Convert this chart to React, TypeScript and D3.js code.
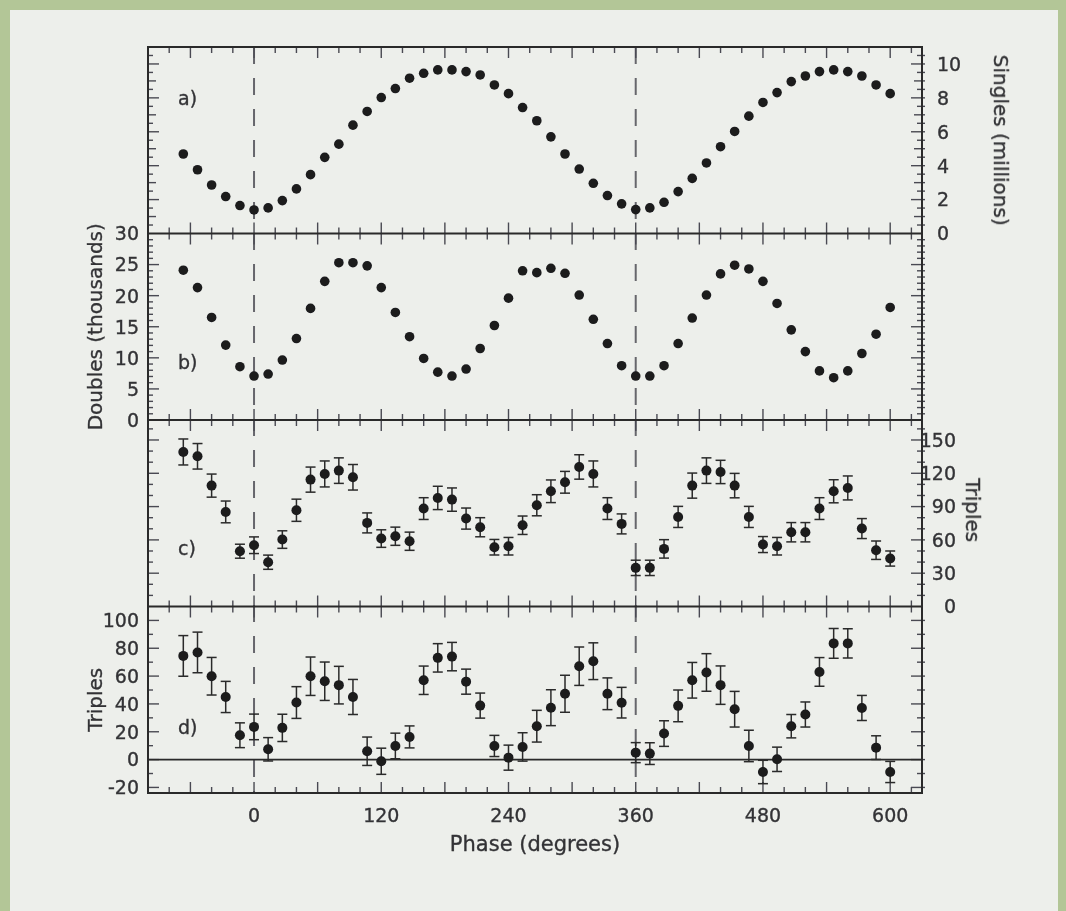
import React from "react";
import * as d3 from "d3";

// phase of each measurement, degrees
const phases = [
  -66.7, -53.3, -40, -26.7, -13.3,
  0, 13.3, 26.7, 40, 53.3, 66.7, 80, 93.3, 106.7, 120,
  133.3, 146.7, 160, 173.3, 186.7, 200, 213.3, 226.7, 240, 253.3,
  266.7, 280, 293.3, 306.7, 320, 333.3, 346.7, 360, 373.3, 386.7,
  400, 413.3, 426.7, 440, 453.3, 466.7, 480, 493.3, 506.7, 520,
  533.3, 546.7, 560, 573.3, 586.7, 600,
];

// a) singles, millions
const singles = [
  4.69, 3.76, 2.86, 2.18, 1.65,
  1.39, 1.51, 1.94, 2.63, 3.47, 4.49, 5.27, 6.39, 7.2, 8.02,
  8.55, 9.16, 9.45, 9.65, 9.65, 9.55, 9.35, 8.76, 8.25, 7.43,
  6.65, 5.7, 4.69, 3.8, 2.96, 2.24, 1.75, 1.41, 1.51, 1.84,
  2.47, 3.25, 4.16, 5.12, 6.02, 6.92, 7.73, 8.31, 8.96, 9.29,
  9.55, 9.65, 9.55, 9.29, 8.76, 8.25,
];

// b) doubles, thousands
const doubles = [
  24.1, 21.3, 16.5, 12.05, 8.57,
  7.07, 7.39, 9.64, 13.1, 17.95, 22.3, 25.3, 25.3, 24.8, 21.3,
  17.3, 13.4, 9.9, 7.7, 7.07, 8.2, 11.5, 15.2, 19.6, 24.0,
  23.7, 24.4, 23.6, 20.1, 16.2, 12.3, 8.73, 7.07, 7.07, 8.73,
  12.3, 16.4, 20.1, 23.5, 24.9, 24.3, 22.3, 18.75, 14.5, 11.0,
  7.9, 6.8, 7.9, 10.7, 13.8, 18.1,
];

// c) triples
const triplesC = [
  139.2, 135.3, 108.9, 85.2, 49.8,
  55.2, 39.9, 60.3, 86.7, 114.3, 119.4, 122.4, 116.4, 75.3, 61.2,
  63.3, 58.8, 88.2, 97.8, 96.3, 79.2, 71.4, 53.4, 54.3, 73.2,
  91.2, 103.8, 111.9, 125.7, 119.4, 88.2, 74.4, 34.8, 34.8, 51.9,
  80.7, 108.9, 122.4, 121.2, 108.9, 80.7, 55.8, 54.3, 66.9, 66.9,
  88.2, 103.8, 106.8, 70.2, 50.7, 43.2,
];
const triplesCErr = [
  11.7, 11.5, 10.4, 9.8, 6.3,
  7.5, 6.4, 7.9, 10, 11.3, 11.7, 11.5, 11.5, 9, 7.9,
  8.2, 8.2, 9.8, 10.5, 10.5, 9.5, 8.6, 7, 7.9, 8.3,
  9.5, 10.2, 9.8, 11, 11.7, 9.8, 9, 6.9, 6.9, 8.3,
  9.5, 11.3, 11.5, 10.5, 11, 9.5, 7.2, 7.9, 8.7, 8.7,
  9.8, 10.4, 10.8, 9, 8.3, 6.8,
];

// d) triples, background subtracted
const triplesD = [
  74.5, 77, 59.9, 45, 17.5,
  23.5, 7.4, 22.8, 41, 59.9, 56.3, 53.5, 45, 6, -1.2,
  9.8, 16.3, 57, 73.1, 74, 56, 38.8, 9.8, 1.4, 9.1,
  24, 37.3, 47.3, 67.1, 70.7, 47.3, 40.9, 5, 4.3, 18.7,
  38.6, 57, 62.6, 53.5, 36.2, 9.8, -8.9, 0.2, 24, 32.4,
  63, 83.5, 83.5, 37.1, 8.6, -8.9,
];
const triplesDErr = [
  14.6, 14.6, 13.5, 11.2, 8.9,
  9.2, 8.4, 9.8, 11.4, 13.8, 13.8, 13.5, 12.6, 10.2, 9.4,
  9.2, 7.9, 10.2, 10.2, 10.2, 9, 9, 7.6, 9, 10.2,
  11.4, 12.9, 13.3, 13.8, 13.2, 11.4, 11, 7.2, 7.8, 9.2,
  11.4, 12.8, 13.5, 13.8, 12.8, 11.3, 8.4, 8.75, 8.4, 9,
  10.3, 10.7, 10.5, 9, 8.5, 7.6,
];

const phaseTicks = [0, 120, 240, 360, 480, 600];
const singlesTicks = [0, 2, 4, 6, 8, 10];
const doublesTicks = [0, 5, 10, 15, 20, 25, 30];
const triplesCTicks = [0, 30, 60, 90, 120, 150];
const triplesDTicks = [-20, 0, 20, 40, 60, 80, 100];

const W = 1066;
const H = 911;
const L = 148;
const R = 922;
const T = 47;
const PH = 186.5;
const FONT = "'DejaVu Sans', Arial, sans-serif";
const INK = "#2a2a2a";
const TXT = "#333336";

const x = d3.scaleLinear().domain([-100, 630]).range([L, R]);

type Panel = {
  label: string;
  domain: [number, number];
  minorStep: number;
  midStep: number;
  majorStep: number;
  ticks: number[];
  side: "left" | "right";
  title: string;
  values: number[];
  errs?: number[];
  zeroLine?: boolean;
};

const panels: Panel[] = [
  { label: "a)", domain: [0, 11], minorStep: 0.5, midStep: 1, majorStep: 2, ticks: singlesTicks, side: "right", title: "Singles (millions)", values: singles },
  { label: "b)", domain: [0, 30], minorStep: 1, midStep: 5, majorStep: 5, ticks: doublesTicks, side: "left", title: "Doubles (thousands)", values: doubles },
  { label: "c)", domain: [0, 168], minorStep: 10, midStep: 30, majorStep: 30, ticks: triplesCTicks, side: "right", title: "Triples", values: triplesC, errs: triplesCErr },
  { label: "d)", domain: [-24, 110], minorStep: 10, midStep: 20, majorStep: 20, ticks: triplesDTicks, side: "left", title: "Triples", values: triplesD, errs: triplesDErr, zeroLine: true },
];

const isMult = (v: number, s: number) => Math.abs(v / s - Math.round(v / s)) < 1e-6;

const textStyle = { fill: TXT, stroke: TXT, strokeWidth: 0.35 };

function PanelView({ p, i }: { p: Panel; i: number }) {
  const top = T + i * PH;
  const bot = top + PH;
  const y = d3.scaleLinear().domain(p.domain).range([bot, top]);
  const start = Math.ceil(p.domain[0] / p.minorStep) * p.minorStep;
  const yTicks = d3.range(start, p.domain[1] + 1e-9, p.minorStep).filter((v) => y(v) > top + 2 && y(v) < bot - 2);
  const xTicks = d3.range(-80, 630, 20);
  const tickLen = (v: number) => (isMult(v, p.majorStep) ? 11 : isMult(v, p.midStep) ? 8 : 5);
  const rightC = p.label === "c)";

  return (
    <g>
      {/* x ticks on top & bottom edges */}
      {xTicks.map((t) => {
        const len = isMult(t, 60) ? 11 : 6;
        return (
          <g key={"x" + t} stroke="#4a4a52" strokeWidth={1.4}>
            <line x1={x(t)} x2={x(t)} y1={top} y2={top + len} />
            <line x1={x(t)} x2={x(t)} y1={bot} y2={bot - len} />
          </g>
        );
      })}
      {/* y ticks on both edges */}
      {yTicks.map((v) => {
        const len = tickLen(v);
        return (
          <g key={"y" + v} stroke="#4a4a52" strokeWidth={1.4}>
            <line x1={L} x2={L + len} y1={y(v)} y2={y(v)} />
            <line x1={R - len} x2={R + 3} y1={y(v)} y2={y(v)} />
          </g>
        );
      })}
      {p.zeroLine && <line x1={L} x2={R} y1={y(0)} y2={y(0)} stroke={INK} strokeWidth={1.8} />}
      {/* tick labels */}
      {p.ticks.map((v) => (
        <text
          key={"l" + v}
          x={p.side === "left" ? 139 : rightC ? 956 : 937}
          y={y(v)}
          dy="0.36em"
          textAnchor={p.side === "left" || rightC ? "end" : "start"}
          fontSize={19}
          {...textStyle}
        >
          {v}
        </text>
      ))}
      {/* axis title */}
      {p.side === "left" ? (
        <text transform={`translate(95,${(top + bot) / 2}) rotate(-90)`} textAnchor="middle" dy="0.36em" fontSize={20} {...textStyle}>
          {p.title}
        </text>
      ) : (
        <text
          transform={`translate(${rightC ? 973 : 1001},${(top + bot) / 2 - (rightC ? 3 : 0)}) rotate(90)`}
          textAnchor="middle"
          dy="0.36em"
          fontSize={20}
          {...textStyle}
        >
          {p.title}
        </text>
      )}
      {/* panel tag */}
      <text x={178} y={[98, 362, 548, 727][i]} dy="0.36em" fontSize={19} {...textStyle}>
        {p.label}
      </text>
      {/* error bars */}
      {p.errs &&
        p.values.map((v, k) => {
          const e = p.errs![k];
          const cx = x(phases[k]);
          return (
            <g key={"e" + k} stroke={INK} strokeWidth={1.5}>
              <line x1={cx} x2={cx} y1={y(v - e)} y2={y(v + e)} />
              <line x1={cx - 5} x2={cx + 5} y1={y(v - e)} y2={y(v - e)} />
              <line x1={cx - 5} x2={cx + 5} y1={y(v + e)} y2={y(v + e)} />
            </g>
          );
        })}
      {/* points */}
      {p.values.map((v, k) => (
        <circle key={"p" + k} cx={x(phases[k])} cy={y(v)} r={p.errs ? 5 : 4.8} fill="#1a1a1c" />
      ))}
    </g>
  );
}

export default function App() {
  const bottom = T + 4 * PH;
  return (
    <svg width={W} height={H} style={{ position: "absolute", left: 0, top: 0 }} fontFamily={FONT}>
      <defs>
        <filter id="soft" x="-5%" y="-5%" width="110%" height="110%">
          <feGaussianBlur stdDeviation="0.55" />
        </filter>
      </defs>
      <rect x={0} y={0} width={W} height={H} fill="#b3c697" />
      <rect x={10} y={10} width={W - 18} height={H - 10} fill="#edefeb" />
      <g filter="url(#soft)">
        {/* dashed phase markers */}
        {[0, 360].map((d) => (
          <line key={d} x1={x(d)} x2={x(d)} y1={T} y2={bottom} stroke="#66666c" strokeWidth={2} strokeDasharray="17,14" />
        ))}
        {panels.map((p, i) => (
          <PanelView key={p.label} p={p} i={i} />
        ))}
        {/* frame & separators */}
        <rect x={L} y={T} width={R - L} height={bottom - T} fill="none" stroke={INK} strokeWidth={2} />
        {[1, 2, 3].map((k) => (
          <line key={k} x1={L} x2={R} y1={T + k * PH} y2={T + k * PH} stroke={INK} strokeWidth={2} />
        ))}
        {/* x tick labels */}
        {phaseTicks.map((t) => (
          <text key={t} x={x(t)} y={815} dy="0.36em" textAnchor="middle" fontSize={19} {...textStyle}>
            {t}
          </text>
        ))}
        <text x={(L + R) / 2} y={843} dy="0.36em" textAnchor="middle" fontSize={21} {...textStyle}>
          Phase (degrees)
        </text>
      </g>
    </svg>
  );
}
